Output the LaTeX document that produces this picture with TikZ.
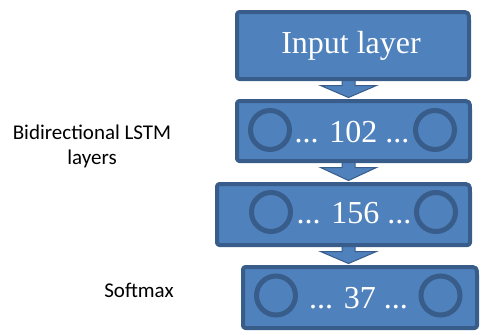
\documentclass[tikz,border=0pt]{standalone}
\usepackage{fontspec}
\setmainfont{Liberation Serif}
\newfontfamily\labelfont{Carlito}
\usetikzlibrary{calc}

\definecolor{layerfill}{HTML}{4F81BD}
\definecolor{layerline}{HTML}{385D8A}

\tikzset{
  layerbox/.style={rectangle, minimum width=#1, inner sep=0pt, outer sep=0pt},
  layeredge/.style={draw=layerline, fill=layerfill, line width=4bp, line join=round},
  unit/.style={circle, draw=layerline, line width=5bp, minimum size=39bp, inner sep=0pt},
  layertext/.style={text=white, font=\fontsize{32bp}{38bp}\selectfont, anchor=base, inner sep=0pt},
  sidetext/.style={text=black, font=\labelfont\fontsize{21bp}{25bp}\selectfont, align=center, inner sep=0pt},
  flow/.style={draw=layerline, fill=layerfill, line width=1bp, line join=miter},
}

% outline of a layer: rounded top-right corner, small rounding elsewhere
\newcommand\layeroutline[1]{%
  \path[layeredge] (#1.south west) [rounded corners=2.5bp] -- (#1.north west)
    -- ($(#1.north east)+(-12,0)$) .. controls (#1.north east) .. ($(#1.north east)+(0,12)$)
    -- (#1.south east) -- cycle;}

% block arrow between two layers, along the vertical through (ax)
\newcommand\flowarrow[2]{%
  \path[flow] ($(ax |- #1.south)+(-6.5,0)$) -- ($(ax |- #1.south)+(-6.5,6.5)$)
    -- ($(ax |- #1.south)+(-28,6.5)$) -- ($(ax |- #2.north)+(0,-3.5)$)
    -- ($(ax |- #1.south)+(28,6.5)$) -- ($(ax |- #1.south)+(6.5,6.5)$)
    -- ($(ax |- #1.south)+(6.5,0)$) -- cycle;}

\begin{document}
\begin{tikzpicture}[x=1bp, y=-1bp]
  \useasboundingbox (0,0) rectangle (491,331);

  % layer frames
  \node[layerbox=232bp, minimum height=67bp] (input) at (353,45.5) {};
  \node[layerbox=233bp, minimum height=60bp] (l1) at (353.5,131) {};
  \node[layerbox=253bp, minimum height=61bp] (l2) at (343.5,214.5) {};
  \node[layerbox=234bp, minimum height=61bp] (out) at (360,297.5) {};
  \coordinate (ax) at (348.5,0);

  % arrows first, so the frames sit on top of them
  \flowarrow{input}{l1}
  \flowarrow{l1}{l2}
  \flowarrow{l2}{out}

  \layeroutline{input}
  \layeroutline{l1}
  \layeroutline{l2}
  \layeroutline{out}

  % units
  \node[unit] (l1a) at (270,130) {};
  \node[unit] (l1b) at (435,130) {};
  \node[unit] (l2a) at (271,212) {};
  \node[unit] (l2b) at (436,212) {};
  \node[unit] (outa) at (276,295.5) {};
  \node[unit] (outb) at (440.5,295.5) {};

  % layer texts
  \node[layertext] (tin) at (351,53) {Input layer};
  \node[layertext] (t1) at (352,142) {... 102 ...};
  \node[layertext] (t2) at (354,223) {... 156 ...};
  \node[layertext] (t3) at (358.5,308) {... 37 ...};

  % side labels
  \node[sidetext] (lstm) at (92,146) {Bidirectional LSTM\\layers};
  \node[sidetext, anchor=base] (soft) at (139,297) {Softmax};
\end{tikzpicture}
\end{document}
